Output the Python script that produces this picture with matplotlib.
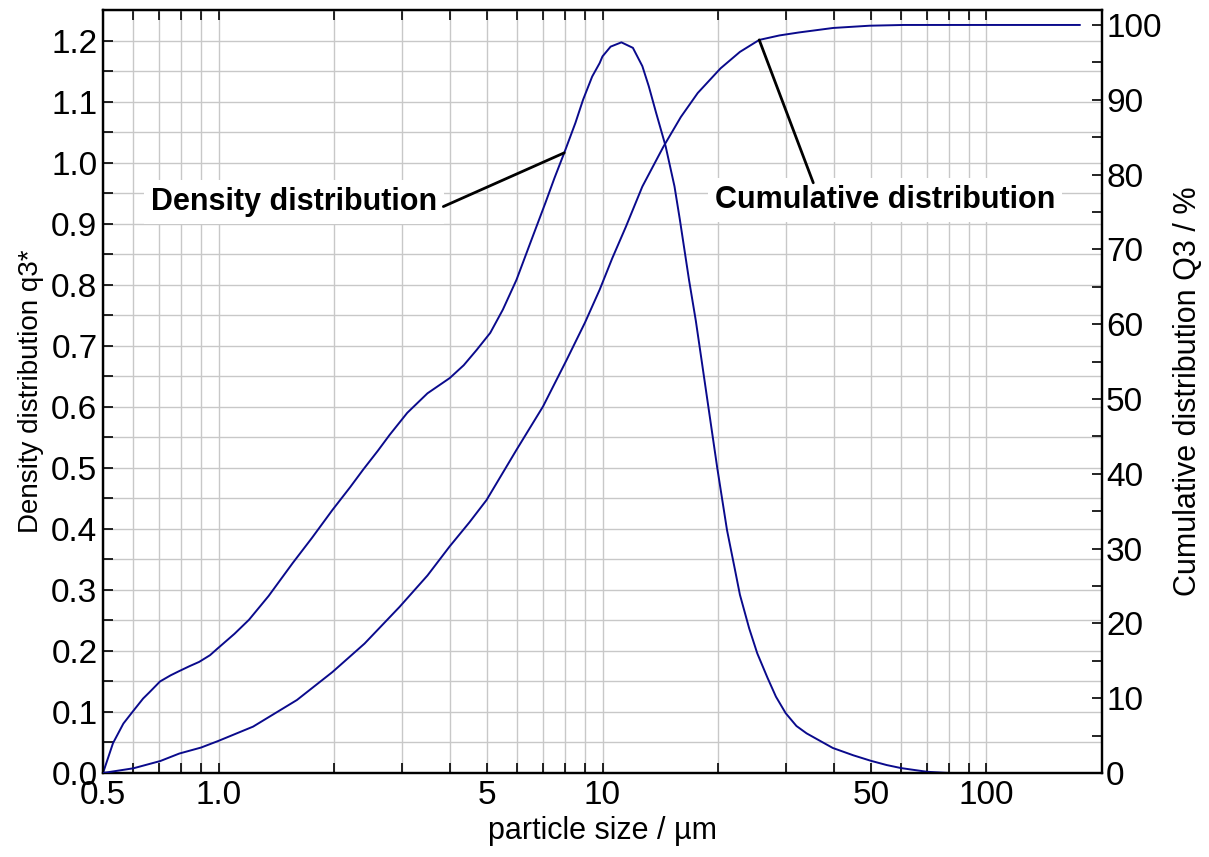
import numpy as np
import matplotlib.pyplot as plt
from matplotlib.ticker import FixedLocator, FixedFormatter, MultipleLocator, FormatStrFormatter

plt.rcParams['font.family'] = ['Liberation Sans', 'DejaVu Sans']

# density distribution q3* (left axis)
size_density = [0.5, 0.531, 0.565, 0.6, 0.636, 0.66, 0.704, 0.75, 0.79, 0.84, 0.89, 0.95,
                0.99, 1.1, 1.2, 1.35, 1.56, 1.75, 1.98, 2.2, 2.38, 2.6, 2.79, 3.1, 3.5, 4.0,
                4.35, 4.7, 5.1, 5.5, 5.97, 6.5, 7.1, 7.5, 7.95, 8.5, 8.9, 9.4, 9.83, 10.0, 10.5,
                11.2, 12.0, 12.7, 13.2, 13.8, 14.6, 15.4, 15.9, 16.8, 17.5, 18.1, 19.1, 19.9,
                21.1, 22.1, 22.8, 24.1, 25.3, 26.9, 28.3, 30.0, 32.0, 34.0, 36.3, 39.8, 45, 50,
                55, 60, 70, 80, 175]
q3_density = [0.0, 0.049, 0.081, 0.102, 0.122, 0.132, 0.150, 0.160, 0.167, 0.175, 0.182, 0.193,
              0.203, 0.228, 0.251, 0.290, 0.344, 0.385, 0.431, 0.468, 0.497, 0.528, 0.554, 0.590,
              0.622, 0.647, 0.668, 0.693, 0.721, 0.759, 0.808, 0.870, 0.934, 0.975, 1.016, 1.065,
              1.103, 1.141, 1.163, 1.174, 1.190, 1.197, 1.188, 1.158, 1.125, 1.081, 1.027, 0.961,
              0.907, 0.808, 0.741, 0.678, 0.577, 0.500, 0.398, 0.335, 0.292, 0.237, 0.196, 0.156,
              0.125, 0.098, 0.077, 0.065, 0.055, 0.041, 0.029, 0.020, 0.013, 0.008, 0.002, 0.0,
              0.0]

# cumulative distribution Q3 in % (right axis)
size_cum = [0.5, 0.6, 0.705, 0.79, 0.9, 1.0, 1.23, 1.6, 1.98, 2.4, 2.96, 3.5, 4.0, 4.5, 4.99,
            5.97, 7.0, 8.06, 9.0, 9.83, 10.6, 11.5, 12.7, 14.4, 16.0, 17.7, 20.3, 22.8, 25.6,
            28.9, 32.5, 39.9, 49.6, 60.9, 175]
Q3_cum = [0.0, 0.63, 1.6, 2.6, 3.4, 4.3, 6.2, 9.76, 13.5, 17.3, 22.2, 26.4, 30.3, 33.5, 36.5,
          43.2, 49.0, 55.2, 60.2, 64.6, 68.8, 73.0, 78.4, 83.7, 87.7, 90.9, 94.2, 96.4, 98.0,
          98.6, 99.0, 99.6, 99.9, 100.0, 100.0]

x_major = [0.5, 1.0, 5, 10, 50, 100]
x_major_labels = ['0.5', '1.0', '5', '10', '50', '100']
x_minor = [0.6, 0.7, 0.8, 0.9, 2, 3, 4, 6, 7, 8, 9, 20, 30, 40, 60, 70, 80, 90]

line_color = '#0a0a8c'
grid_color = '#c8c8c8'

fig = plt.figure(figsize=(12.09, 8.57), dpi=100)
ax = fig.add_axes([103 / 1209, 84 / 857, 999 / 1209, 763 / 857])
ax2 = ax.twinx()

ax.plot(size_density, q3_density, color=line_color, lw=1.4, zorder=3)
ax2.plot(size_cum, Q3_cum, color=line_color, lw=1.4, zorder=3)

# AXES
ax.set_xscale('log')
ax.set_xlim(0.5, 200)
ax.set_ylim(0, 1.25)
ax2.set_ylim(0, 102)

ax.xaxis.set_major_locator(FixedLocator(x_major))
ax.xaxis.set_major_formatter(FixedFormatter(x_major_labels))
ax.xaxis.set_minor_locator(FixedLocator(x_minor))
ax.xaxis.set_minor_formatter(FixedFormatter([''] * len(x_minor)))
ax.yaxis.set_major_locator(MultipleLocator(0.1))
ax.yaxis.set_minor_locator(MultipleLocator(0.05))
ax.yaxis.set_major_formatter(FormatStrFormatter('%.1f'))
ax2.yaxis.set_major_locator(MultipleLocator(10))
ax2.yaxis.set_minor_locator(MultipleLocator(5))
ax2.yaxis.set_major_formatter(FormatStrFormatter('%d'))

ax.grid(which='both', color=grid_color, lw=1.0)
ax.set_axisbelow(True)

ax.tick_params(which='both', direction='in', length=7, width=1.2, top=True, right=False,
               labelsize=24, color='k')
ax.tick_params(axis='x', which='both', pad=5)
ax.tick_params(axis='y', which='both', pad=4)
ax2.tick_params(which='both', direction='in', length=7, width=1.2, labelsize=24, pad=3)

for a in (ax, ax2):
    for s in a.spines.values():
        s.set_linewidth(1.6)

ax.set_xlabel('particle size / µm', fontsize=22, labelpad=4)
ax.set_ylabel('Density distribution q3*', fontsize=20, labelpad=5)
ax2.set_ylabel('Cumulative distribution Q3 / %', fontsize=22, labelpad=8)

# LABELS WITH LEADER LINES
box = dict(facecolor='white', edgecolor='none', pad=5)
i_d = size_density.index(7.95)
ax.text(1.57, 0.936, 'Density distribution', ha='center', va='center', fontsize=22,
        fontweight='bold', bbox=box, zorder=4)
ax.annotate('', xy=(size_density[i_d], q3_density[i_d]), xytext=(3.85, 0.928),
            arrowprops=dict(arrowstyle='-', color='k', lw=2, shrinkA=0, shrinkB=0), zorder=5)

i_c = size_cum.index(25.6)
ax.text(54.4, 0.939, 'Cumulative distribution', ha='center', va='center', fontsize=22,
        fontweight='bold', bbox=box, zorder=4)
ax2.annotate('', xy=(size_cum[i_c], Q3_cum[i_c]), xytext=(35.4, 78.9),
             arrowprops=dict(arrowstyle='-', color='k', lw=2, shrinkA=0, shrinkB=0), zorder=5)

fig.savefig('out.png', dpi=100)
